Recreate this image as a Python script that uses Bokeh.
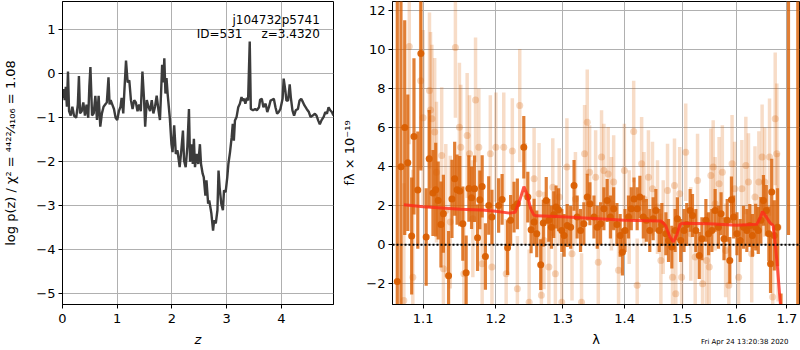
from bokeh.plotting import figure
from bokeh.layouts import row, column
from bokeh.models import Range1d, FixedTicker, PrintfTickFormatter, Label, Span, CustomJSTickFormatter, Div
from bokeh.embed import file_html
from bokeh.resources import INLINE

# ---------------- left panel: log p(z) ----------------
z_grid = [0.00, 0.02, 0.04, 0.06, 0.08, 0.10, 0.12, 0.15, 0.18, 0.21, 0.25, 0.28, 0.30, 0.32, 0.35,
          0.38, 0.41, 0.44, 0.47, 0.49, 0.51, 0.54, 0.57, 0.60, 0.63, 0.66, 0.69, 0.72, 0.75, 0.78,
          0.81, 0.84, 0.86, 0.88, 0.91, 0.94, 0.97, 1.00, 1.03, 1.06, 1.08, 1.11, 1.13, 1.16, 1.19,
          1.22, 1.25, 1.28, 1.31, 1.34, 1.37, 1.40, 1.43, 1.46, 1.49, 1.51, 1.54, 1.57, 1.60, 1.63,
          1.66, 1.69, 1.72, 1.75, 1.78, 1.80, 1.82, 1.84, 1.86, 1.88, 1.90,
          1.92, 1.96, 1.99, 2.01, 2.04, 2.07, 2.10, 2.14, 2.17, 2.20, 2.22, 2.25, 2.28, 2.31, 2.33,
          2.36, 2.38, 2.40, 2.42, 2.45, 2.48, 2.51, 2.53, 2.56, 2.58, 2.61, 2.63, 2.66, 2.68, 2.71,
          2.72, 2.75, 2.77, 2.80, 2.83, 2.85, 2.87, 2.90, 2.93, 2.95, 2.98, 3.01, 3.03, 3.06, 3.09,
          3.11, 3.13, 3.15, 3.18, 3.21, 3.24, 3.27, 3.29, 3.32, 3.34, 3.37, 3.39, 3.42, 3.44, 3.48,
          3.52, 3.55, 3.59, 3.61, 3.64, 3.67, 3.71, 3.74, 3.77, 3.80, 3.83, 3.86, 3.89, 3.92, 3.95,
          3.98, 4.02, 4.04, 4.07, 4.09, 4.12, 4.15, 4.17, 4.20, 4.23, 4.26, 4.30, 4.33, 4.36, 4.39,
          4.42, 4.46, 4.50, 4.53, 4.57, 4.61, 4.64, 4.67, 4.70, 4.73, 4.77, 4.80, 4.83, 4.86, 4.89,
          4.92, 4.95]
log_pz = [-0.55, -0.35, -0.60, -0.30, -0.75, 0.05, -0.85, -0.95, -0.75, -0.95, -1.00, -0.70, -0.05, -0.90, -0.85,
          -0.65, -0.95, -0.70, -1.00, -0.30, 0.15, -0.95, -0.90, -0.50, -1.05, -0.50, -1.20, -0.90, -0.75, -0.70,
          -0.65, -0.08, -0.70, -0.60, -0.70, -0.80, -1.00, -1.05, -0.85, -0.75, -0.55, -0.90, -0.40, 0.30, -0.20,
          -0.15, -0.60, -0.80, -0.60, -0.65, -0.85, -0.70, -0.85, 0.05, -0.60, -1.20, -0.60, -0.75, -0.85, -0.60,
          -0.90, -0.75, -0.50, -0.80, -1.05, -0.45, 0.20, -0.20, 0.35, -0.45, -0.10,
          -0.45, -1.00, -1.60, -1.78, -1.17, -1.82, -1.74, -2.12, -1.74, -1.29, -1.97, -2.12, -1.67, -0.80, -2.00,
          -1.60, -2.05, -1.48, -2.12, -1.82, -2.05, -1.60, -2.05, -2.27, -2.35, -2.77, -2.42, -2.95, -2.88, -3.10,
          -3.18, -3.56, -3.33, -3.40, -3.10, -2.20, -2.58, -2.95, -3.10, -2.65, -2.69, -2.35, -2.05, -1.78, -1.44,
          -1.14, -1.52, -1.06, -0.98, -0.76, -0.68, -0.53, -0.61, -0.57, -0.68, -0.55, -0.61, 0.73, -0.80, -0.83,
          -0.80, -0.83, -0.76, -0.59, -0.57, -0.76, -0.68, -0.87, -0.76, -0.61, -0.59, -0.57, -0.76, -0.91, -0.87,
          -0.80, -0.57, -0.11, -0.38, -0.61, -0.61, -0.24, -0.53, -0.83, -0.95, -0.83, -0.80, -0.61, -0.57, -0.64,
          -0.72, -0.80, -0.87, -0.98, -0.95, -0.91, -0.95, -1.06, -1.15, -1.06, -0.98, -0.87, -0.91, -0.76, -0.83,
          -0.87, -0.95]
z_ticks = [0, 1, 2, 3, 4]
pz_ticks = [-5, -4, -3, -2, -1, 0, 1]
obj_name = "j104732p5741"
obj_info = "ID=531\u00a0\u00a0\u00a0\u00a0\u00a0z=3.4320"
chi2_label = "log p(z) / \u03c7\u00b2 = \u2074\u2074\u00b2\u00b2\u2044\u2084\u2081\u2080\u2086 = 1.08"

# ---------------- right panel: spectrum ----------------
dark_lam = [1.0665, 1.0712, 1.0760, 1.0800, 1.0850, 1.0880, 1.0930, 1.0970, 1.1040, 1.1080,
            1.1130, 1.1167, 1.1200, 1.1237, 1.1270, 1.1340, 1.1386, 1.1423, 1.1456, 1.1493,
            1.1535, 1.1581, 1.1619, 1.1656, 1.1698, 1.1740, 1.1772, 1.1805, 1.1851, 1.1898,
            1.1944, 1.2040, 1.2090, 1.2170, 1.2214, 1.2264, 1.2313, 1.2408, 1.2468, 1.2517,
            1.2562, 1.2602, 1.2662, 1.2701, 1.2746, 1.2786, 1.2826, 1.2861, 1.2896, 1.2935,
            1.2985, 1.3022, 1.3070, 1.3124, 1.3177, 1.3226, 1.3280, 1.3333, 1.3387, 1.3430,
            1.3495, 1.3548, 1.3602, 1.3656, 1.3710, 1.3763, 1.3817, 1.3871, 1.3925, 1.3962,
            1.4006, 1.4064, 1.4111, 1.4158, 1.4211, 1.4257, 1.4316, 1.4368, 1.4427, 1.4485,
            1.4532, 1.4591, 1.4637, 1.4708, 1.4754, 1.4813, 1.4871, 1.4912, 1.4971, 1.5031,
            1.5080, 1.5141, 1.5184, 1.5245, 1.5307, 1.5356, 1.5429, 1.5479, 1.5540, 1.5601,
            1.5663, 1.5712, 1.5767, 1.5828, 1.5877, 1.5908, 1.5951, 1.6013, 1.6076, 1.6140,
            1.6204, 1.6261, 1.6312, 1.6376, 1.6427, 1.6478, 1.6529, 1.6586, 1.6637, 1.6670,
            1.6694, 1.6745, 1.6809, 1.6880, 1.7032, 1.7223]
dark_flux = [-1.88, 4.0, 6.0, 4.2, 0.45, 5.55, 2.8, 9.8, 0.4, 4.4,
             2.65, 2.82, 2.27, 1.04, 1.59, -1.59, 2.35, 3.38, 2.82, 2.75,
             1.08, -1.43, 2.88, 2.41, 2.87, 0.36, 2.30, 2.99, -0.60, 2.01,
             1.42, 2.01, 2.32, -0.15, 1.25, 1.93, 2.10, 5.00, 2.44, 0.77,
             1.16, 0.56, -1.02, 1.11, 2.27, 1.25, 0.90, 1.54, 1.93, 1.79,
             0.73, 0.48, 0.99, 0.90, 3.04, 1.42, 0.73, 1.08, 2.44, 2.10,
             1.42, 0.90, 1.08, 1.84, 2.27, 1.42, 1.84, 1.04, 0.48, -0.38,
             0.73, 1.42, 1.84, 2.35, 1.84, 2.44, 1.42, 1.25, 0.73, 1.33,
             1.76, 0.73, 1.04, 0.56, 0.22, -0.12, 0.73, 1.33, 0.22, 0.73,
             1.04, 1.76, 1.50, 0.73, -0.55, 0.31, 1.25, 0.56, 0.73, 1.76,
             0.90, 1.59, 0.31, 1.25, -0.80, 2.30, 1.42, 0.56, 0.22, 0.90,
             0.73, 0.99, 0.48, 0.90, 0.73, 1.25, 2.27, 1.76, 0.56, -0.97,
             2.70, 0.48, 0.90, -6.0, 14.0, 20.0]
dark_err = [20.0, 9.0, 5.5, 3.5, 3.0, 4.0, 3.0, 6.0, 2.5, 2.5,
            2.2, 2.4, 2.0, 2.2, 2.0, 2.3, 2.0, 1.9, 1.8, 1.8,
            1.9, 1.9, 1.7, 1.6, 1.7, 1.7, 1.5, 1.6, 1.7, 1.5,
            1.4, 1.4, 1.3, 1.4, 1.3, 1.3, 1.3, 1.6, 1.3, 1.2,
            1.2, 1.2, 1.3, 1.2, 1.2, 1.1, 1.1, 1.2, 1.1, 1.1,
            1.1, 1.1, 1.1, 1.1, 1.3, 1.1, 1.1, 1.1, 1.2, 1.1,
            1.1, 1.1, 1.1, 1.1, 1.1, 1.1, 1.1, 1.1, 1.1, 1.2,
            1.1, 1.1, 1.1, 1.1, 1.1, 1.1, 1.1, 1.1, 1.1, 1.1,
            1.1, 1.1, 1.1, 1.1, 1.1, 1.1, 1.1, 1.1, 1.1, 1.1,
            1.1, 1.1, 1.1, 1.1, 1.2, 1.1, 1.1, 1.1, 1.1, 1.1,
            1.1, 1.1, 1.1, 1.1, 1.2, 1.2, 1.1, 1.1, 1.1, 1.1,
            1.1, 1.1, 1.1, 1.2, 1.2, 1.2, 1.3, 1.3, 1.4, 1.5,
            1.7, 1.8, 2.0, 3.5, 13.5, 25.0]

light_lam = [1.0749, 1.0819, 1.0865, 1.0967, 1.1000, 1.1084, 1.1098, 1.1116, 1.1153, 1.1177,
             1.1247, 1.1270, 1.1302, 1.1363, 1.1433, 1.1488, 1.1507, 1.1549, 1.1595, 1.1628,
             1.1674, 1.1712, 1.1758, 1.1805, 1.1921, 1.1944, 1.2000, 1.2114, 1.2149, 1.2239,
             1.2313, 1.2348, 1.2428, 1.2488, 1.2562, 1.2637, 1.2672, 1.2711, 1.2786, 1.2846,
             1.2886, 1.2945, 1.2985, 1.3065, 1.3145, 1.3199, 1.3296, 1.3344, 1.3387, 1.3425,
             1.3522, 1.3565, 1.3618, 1.3656, 1.3726, 1.3780, 1.3817, 1.3898, 1.3995, 1.4076,
             1.4152, 1.4211, 1.4287, 1.4327, 1.4404, 1.4474, 1.4561, 1.4620, 1.4661, 1.4737,
             1.4825, 1.4860, 1.4883, 1.4953, 1.4988, 1.5061, 1.5153, 1.5233, 1.5276, 1.5368,
             1.5442, 1.5491, 1.5521, 1.5564, 1.5601, 1.5675, 1.5736, 1.5798, 1.5859, 1.5920,
             1.5969, 1.6045, 1.6108, 1.6185, 1.6236, 1.6299, 1.6363, 1.6439, 1.6503, 1.6554,
             1.6650, 1.6713, 1.6764, 1.6796, 1.6822]
light_flux = [-2.85, 10.15, -1.66, 8.40, 6.50, 7.90, 6.90, 6.45, 5.77, 3.72,
              4.57, -1.23, 1.76, 1.16, 10.10, 6.02, 5.00, -1.48, 5.60, 4.66,
              1.33, 7.42, 5.00, -0.97, 4.66, -1.14, 5.00, 5.00, -1.48, 4.80,
              -2.25, 7.13, 2.61, -2.94, 3.38, 2.61, -2.59, 0.22, -1.14, 2.95,
              -1.48, 2.44, -2.94, 3.98, -0.46, 2.35, -2.94, 4.66, 6.28, 3.72,
              3.46, -0.89, 4.49, 3.80, 3.63, 2.10, 3.21, -1.31, 3.80, 1.42,
              5.80, -2.08, 4.15, 2.35, 3.46, 2.87, 1.93, -0.80, 0.90, 2.78,
              -1.66, 3.04, -2.51, 2.61, -1.66, 4.74, 0.56, -0.63, 3.29, -2.00,
              -0.80, -1.14, 3.55, 3.98, 2.10, 3.12, 3.72, -0.29, -2.08, 4.15,
              2.87, -1.66, 2.87, 4.06, 3.21, -0.46, 2.44, 3.21, 4.49, 3.21,
              4.49, -2.68, 6.45, 4.66, 0.90]
light_err = [6.0, 5.0, 5.5, 4.5, 4.5, 4.0, 4.0, 3.8, 3.8, 3.6,
             3.5, 3.5, 3.4, 3.4, 3.6, 3.3, 3.2, 3.2, 3.2, 3.0,
             3.0, 3.2, 3.0, 3.0, 3.0, 2.9, 2.8, 2.8, 2.8, 2.7,
             2.7, 2.9, 2.6, 2.7, 2.6, 2.6, 2.6, 2.5, 2.5, 2.5,
             2.5, 2.5, 2.5, 2.5, 2.4, 2.4, 2.5, 2.5, 2.7, 2.4,
             2.4, 2.4, 2.4, 2.4, 2.4, 2.4, 2.4, 2.4, 2.4, 2.4,
             2.6, 2.4, 2.4, 2.4, 2.4, 2.4, 2.4, 2.4, 2.4, 2.4,
             2.4, 2.4, 2.4, 2.4, 2.4, 2.5, 2.4, 2.4, 2.4, 2.4,
             2.4, 2.4, 2.4, 2.4, 2.4, 2.4, 2.4, 2.4, 2.4, 2.5,
             2.4, 2.4, 2.5, 2.5, 2.5, 2.5, 2.6, 2.6, 2.7, 2.8,
             3.0, 3.2, 3.4, 3.6, 3.8]

model_lam = [1.075, 1.100, 1.150, 1.180, 1.200, 1.220, 1.228, 1.235, 1.241, 1.246, 1.251, 1.256,
             1.260, 1.300, 1.350, 1.400, 1.462, 1.470, 1.478, 1.484, 1.490, 1.496, 1.500, 1.550,
             1.600, 1.640, 1.646, 1.651, 1.658, 1.666, 1.672, 1.676, 1.681, 1.686, 1.692]
model_flux = [2.05, 1.95, 1.82, 1.78, 1.72, 1.62, 1.66, 2.30, 2.98, 2.55, 1.85, 1.52,
              1.48, 1.43, 1.35, 1.26, 1.22, 1.00, 0.40, 0.15, 0.50, 1.05, 1.10, 1.08,
              1.00, 1.05, 1.35, 1.70, 1.45, 1.12, 1.00, 0.20, -1.20, -2.80, -4.50]

lam_ticks = [1.1, 1.2, 1.3, 1.4, 1.5, 1.6, 1.7]
flux_ticks = [-2, 0, 2, 4, 6, 8, 10, 12]
timestamp = "Fri Apr 24 13:20:38 2020"

FONT = "DejaVu Sans"
ORANGE = "#d95f02"
minus_fmt = "return (tick < 0 ? '\\u2212' : '') + Math.abs(tick).toFixed(0);"


def style(p):
    p.outline_line_color = "black"
    p.outline_line_width = 1
    p.outline_line_alpha = 1
    p.background_fill_color = "white"
    p.border_fill_color = "white"
    for ax in (p.xaxis, p.yaxis):
        ax.axis_line_color = "black"
        ax.major_tick_line_color = "black"
        ax.major_tick_out = 4
        ax.major_tick_in = 0
        ax.minor_tick_out = 0
        ax.minor_tick_in = 0
        ax.major_label_text_font = FONT
        ax.major_label_text_font_size = "13px"
        ax.major_label_text_color = "black"
        ax.axis_label_text_font = FONT
        ax.axis_label_text_font_size = "13px"
        ax.axis_label_text_font_style = "normal"
        ax.axis_label_text_color = "black"
    p.xaxis.major_label_standoff = 5
    p.yaxis.major_label_standoff = 3
    p.xaxis.axis_label_standoff = 6
    p.grid.grid_line_color = "#b0b0b0"
    p.grid.grid_line_width = 1


# ---- left figure
p1 = figure(width=338, height=350, output_backend="svg", toolbar_location=None,
            x_range=Range1d(0, 4.95), y_range=Range1d(-5.24, 1.64),
            min_border_left=62, min_border_right=5, min_border_top=1, min_border_bottom=46)
style(p1)
p1.line(z_grid, log_pz, line_color="#3c3c3c", line_width=2.4)
p1.xaxis.ticker = FixedTicker(ticks=z_ticks)
p1.yaxis.ticker = FixedTicker(ticks=pz_ticks)
p1.yaxis.formatter = CustomJSTickFormatter(code=minus_fmt)
p1.xaxis.formatter = CustomJSTickFormatter(code=minus_fmt)
p1.xaxis.axis_label = "z"
p1.xaxis.axis_label_text_font_style = "italic"
p1.yaxis.axis_label = chi2_label
p1.yaxis.axis_label_standoff = 15
p1.add_layout(Label(x=4.70, y=1.224, text=obj_name, text_align="right", text_baseline="middle",
                    text_font=FONT, text_font_size="12px", text_color="black"))
p1.add_layout(Label(x=4.70, y=0.907, text=obj_info, text_align="right", text_baseline="middle",
                    text_font=FONT, text_font_size="12px", text_color="black"))

# ---- right figure
p2 = figure(width=462, height=350, output_backend="svg", toolbar_location=None,
            x_axis_type="log", x_range=Range1d(1.0604, 1.7258), y_range=Range1d(-3.06, 12.46),
            min_border_left=54, min_border_right=1, min_border_top=1, min_border_bottom=46)
style(p2)
lam_ticker = FixedTicker(ticks=lam_ticks)
p2.xaxis.ticker = lam_ticker
p2.xgrid.ticker = lam_ticker
p2.xaxis.formatter = PrintfTickFormatter(format="%.1f")
p2.yaxis.ticker = FixedTicker(ticks=flux_ticks)
p2.yaxis.formatter = CustomJSTickFormatter(code=minus_fmt)
p2.xaxis.axis_label = "\u03bb"
p2.yaxis.axis_label = "f\u03bb \u00d7 10\u207b\u00b9\u2079"
p2.yaxis.axis_label_standoff = 6

light_lo = [f - e for f, e in zip(light_flux, light_err)]
light_hi = [f + e for f, e in zip(light_flux, light_err)]
dark_lo = [f - e for f, e in zip(dark_flux, dark_err)]
dark_hi = [f + e for f, e in zip(dark_flux, dark_err)]

p2.segment(x0=light_lam, y0=light_lo, x1=light_lam, y1=light_hi,
           line_color=ORANGE, line_alpha=0.22, line_width=3.5)
p2.scatter(light_lam, light_flux, size=7, fill_color=ORANGE, fill_alpha=0.25, line_color=None)
p2.segment(x0=dark_lam, y0=dark_lo, x1=dark_lam, y1=dark_hi,
           line_color=ORANGE, line_alpha=0.8, line_width=3.2)
p2.scatter(dark_lam, dark_flux, size=7, fill_color=ORANGE, fill_alpha=0.95, line_color=None)
p2.line(model_lam, model_flux, line_color="#ff2a1a", line_alpha=0.8, line_width=3)
p2.add_layout(Span(location=0, dimension="width", line_color="black", line_dash="2 2", line_width=2))

# timestamp below the right panel (annotations are clipped to the frame, so use a Div)
ts_div = Div(text=('<div style="font-size:7px; line-height:9px; font-family:\'DejaVu Sans\'; '
                   'white-space:nowrap; color:black;">' + timestamp + '</div>'),
             width=92, height=9, margin=(-18, 0, 0, 701))

layout = column(row(p1, p2), ts_div)
open("out.html", "w").write(file_html(layout, INLINE))
